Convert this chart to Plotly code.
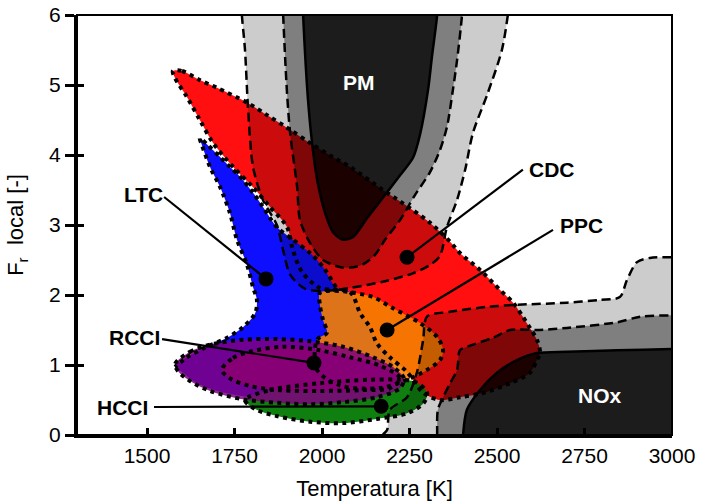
import plotly.graph_objects as go

# ---------------------------------------------------------------
# Mapa de modos de combustión: Temperatura [K] vs. Fr local [-]
# ---------------------------------------------------------------

# CDC (combustión diésel convencional)
CDC_T = [1574, 1600, 1651, 1700, 1789, 1843, 1900, 1966, 2031, 2080, 2174, 2231,
         2309, 2366, 2394, 2451, 2509, 2546, 2574, 2594, 2614, 2623, 2614, 2594,
         2537, 2460, 2394, 2337, 2290, 2243, 2194, 2157, 2137, 2109, 2080, 1994,
         1943, 1917, 1900, 1851, 1803, 1746, 1689, 1651, 1614, 1580]
CDC_F = [5.20, 5.20, 5.07, 4.96, 4.74, 4.57, 4.39, 4.17, 3.97, 3.83, 3.50, 3.31,
         3.03, 2.76, 2.60, 2.36, 2.07, 1.89, 1.69, 1.53, 1.36, 1.17, 1.07, 0.89,
         0.74, 0.60, 0.54, 0.50, 0.60, 0.90, 1.11, 1.31, 1.54, 1.74, 2.04, 2.10,
         2.33, 2.64, 2.97, 3.26, 3.54, 3.83, 4.17, 4.50, 4.83, 5.10]

# LTC (baja temperatura): contorno visible + cierre bajo RCCI/PPC
LTC_borde_T = [2040, 2003, 1966, 1917, 1871, 1831, 1803, 1766, 1737, 1709, 1674,
               1651, 1657, 1680, 1709, 1737, 1757, 1786, 1803, 1814, 1809, 1774,
               1729, 1671, 1614, 1580]
LTC_borde_F = [2.11, 2.40, 2.60, 2.79, 2.97, 3.26, 3.46, 3.69, 3.83, 3.97, 4.14,
               4.24, 4.14, 3.83, 3.54, 3.17, 2.79, 2.43, 2.11, 1.93, 1.74, 1.54,
               1.39, 1.26, 1.11, 0.97]
LTC_cierre_T = [1600, 1650, 1780, 1940, 2100, 2205, 2194, 2157, 2137, 2109, 2080]
LTC_cierre_F = [0.90, 0.72, 0.55, 0.60, 0.77, 0.93, 1.11, 1.31, 1.54, 1.74, 2.04]

# PPC (premezcla parcial)
PPC_T = [1994, 2037, 2080, 2146, 2203, 2280, 2329, 2346, 2337, 2300, 2243, 2166,
         2051, 1986, 1986, 2014, 2003, 1994]
PPC_F = [2.03, 2.06, 2.04, 1.97, 1.81, 1.60, 1.40, 1.21, 1.07, 0.93, 0.79, 0.67,
         0.71, 0.93, 1.36, 1.46, 1.64, 1.86]

# HCCI
HCCI_T = [1780, 1851, 1994, 2137, 2223, 2266, 2300, 2291, 2243, 2157, 2060, 1966,
          1871, 1809]
HCCI_F = [0.50, 0.64, 0.74, 0.79, 0.79, 0.76, 0.61, 0.46, 0.31, 0.23, 0.17, 0.19,
          0.27, 0.37]

# RCCI (contorno exterior y núcleo)
RCCI_T = [1580, 1623, 1680, 1774, 1871, 1966, 2060, 2146, 2203, 2234, 2223, 2157,
          2060, 1966, 1871, 1774, 1680, 1623, 1589]
RCCI_F = [1.01, 1.19, 1.29, 1.36, 1.37, 1.34, 1.26, 1.11, 0.97, 0.81, 0.67, 0.54,
          0.47, 0.44, 0.46, 0.51, 0.63, 0.77, 0.91]
RCCI_nucleo_T = [1714, 1746, 1803, 1889, 1994, 2080, 2166, 2223, 2194, 2109, 1994,
                 1880, 1794, 1737]
RCCI_nucleo_F = [0.93, 1.10, 1.20, 1.26, 1.21, 1.11, 0.99, 0.81, 0.67, 0.64, 0.63,
                 0.64, 0.70, 0.81]

# Zonas de hollín (PM): exterior, intermedia e interior
PM1_T = [1766, 1771, 1780, 1789, 1803, 1831, 1871, 1889, 1909, 1951, 2014, 2080,
         2174, 2260, 2309, 2337, 2357, 2386, 2409, 2431, 2474, 2514, 2531, 2540]
PM1_F = [6.40, 6.00, 5.50, 4.64, 3.83, 3.36, 3.00, 2.64, 2.29, 2.09, 2.06, 2.10,
         2.19, 2.31, 2.43, 2.56, 2.97, 3.36, 3.79, 4.31, 4.89, 5.50, 6.00, 6.40]
PM2_T = [1886, 1889, 1900, 1909, 1929, 1937, 1966, 2003, 2060, 2114, 2151, 2180,
         2223, 2266, 2309, 2337, 2357, 2374, 2386, 2400, 2404]
PM2_F = [6.40, 6.00, 4.89, 4.31, 3.54, 3.07, 2.74, 2.50, 2.39, 2.43, 2.57, 2.79,
         3.07, 3.43, 3.76, 4.07, 4.40, 4.93, 5.36, 6.00, 6.40]
PM3_T = [1943, 1946, 1960, 1974, 1989, 2009, 2031, 2060, 2089, 2129, 2174, 2223,
         2260, 2280, 2303, 2314, 2329, 2333]
PM3_F = [6.40, 6.00, 4.79, 4.07, 3.57, 3.17, 2.90, 2.79, 2.83, 3.10, 3.39, 3.71,
         3.96, 4.29, 4.93, 5.40, 6.00, 6.40]

# Zonas de NOx: exterior, intermedia e interior
NOX1_T = [2172, 2174, 2186, 2194, 2243, 2271, 2289, 2300, 2366, 2471, 2557, 2700,
          2794, 2851, 2871, 2900, 2937, 3000, 3080, 3080]
NOX1_F = [-0.30, 0.00, 0.07, 0.36, 0.54, 0.89, 1.36, 1.69, 1.76, 1.83, 1.86, 1.89,
          1.93, 1.97, 2.21, 2.47, 2.53, 2.54, 2.55, -0.30]
NOX2_T = [2328, 2329, 2331, 2346, 2366, 2386, 2394, 2414, 2489, 2537, 2614, 2700,
          2843, 2909, 3000, 3080, 3080]
NOX2_F = [-0.30, 0.00, 0.36, 0.54, 0.74, 0.93, 1.21, 1.26, 1.39, 1.50, 1.50, 1.53,
          1.61, 1.69, 1.71, 1.72, -0.30]
NOX3_T = [2401, 2403, 2414, 2451, 2500, 2557, 2614, 2700, 2843, 3000, 3080, 3080]
NOX3_F = [-0.30, 0.00, 0.36, 0.64, 0.89, 1.07, 1.17, 1.19, 1.21, 1.23, 1.24, -0.30]

# Etiquetas: texto, posición del texto, inicio de la guía y punto representativo
ETIQUETAS = ["LTC", "CDC", "PPC", "RCCI", "HCCI"]
ETIQ_T = [1489, 2657, 2740, 1463, 1431]
ETIQ_F = [3.44, 3.79, 2.99, 1.39, 0.39]
GUIA_T = [1549, 2574, 2660, 1543, 1520]
GUIA_F = [3.40, 3.79, 2.93, 1.37, 0.40]
PUNTO_T = [1840, 2243, 2186, 1977, 2169]
PUNTO_F = [2.23, 2.54, 1.50, 1.03, 0.41]

ZONAS = ["PM", "NOx"]
ZONA_T = [2106, 2794]
ZONA_F = [5.03, 0.56]

X_TICKS = [1500, 1750, 2000, 2250, 2500, 2750, 3000]
Y_TICKS = [0, 1, 2, 3, 4, 5, 6]

FUENTE = "Liberation Sans, Arial, Helvetica, sans-serif"
PUNTEADO = "4px,4.5px"
DISCONTINUA = "9px,5px"


def cerrar(v):
    return list(v) + [v[0]]


fig = go.Figure()


def relleno(t, f, color, suave=0.9):
    fig.add_trace(go.Scatter(
        x=cerrar(t), y=cerrar(f), mode="lines", fill="toself", fillcolor=color,
        line=dict(width=0, shape="spline", smoothing=suave), hoverinfo="skip"))


def borde(t, f, dash, ancho=4, cerrado=True, suave=0.9):
    xs, ys = (cerrar(t), cerrar(f)) if cerrado else (list(t), list(f))
    fig.add_trace(go.Scatter(
        x=xs, y=ys, mode="lines",
        line=dict(color="black", width=ancho, dash=dash, shape="spline",
                  smoothing=suave), hoverinfo="skip"))


# Rellenos de los modos de combustión
relleno(CDC_T, CDC_F, "rgb(255,15,15)")
relleno(LTC_borde_T + LTC_cierre_T, LTC_borde_F + LTC_cierre_F, "rgb(15,15,255)")
relleno(PPC_T, PPC_F, "rgba(245,128,0,0.9)")
relleno(HCCI_T, HCCI_F, "rgb(15,128,15)")
relleno(RCCI_T, RCCI_F, "rgba(128,0,128,0.85)")
relleno(RCCI_nucleo_T, RCCI_nucleo_F, "rgb(135,0,118)")

# Contornos punteados
borde(CDC_T, CDC_F, PUNTEADO)
borde(LTC_borde_T, LTC_borde_F, PUNTEADO, cerrado=False)
borde(PPC_T, PPC_F, PUNTEADO)
borde(HCCI_T, HCCI_F, PUNTEADO)
borde(RCCI_T, RCCI_F, PUNTEADO)
borde(RCCI_nucleo_T, RCCI_nucleo_F, PUNTEADO)

# Zonas de emisiones (sombras superpuestas)
for t, f, alfa, dash in [
    (PM1_T, PM1_F, 0.20, DISCONTINUA),
    (PM2_T, PM2_F, 0.375, DISCONTINUA),
    (PM3_T, PM3_F, 0.78, "solid"),
    (NOX1_T, NOX1_F, 0.20, DISCONTINUA),
    (NOX2_T, NOX2_F, 0.375, DISCONTINUA),
    (NOX3_T, NOX3_F, 0.78, "solid"),
]:
    fig.add_trace(go.Scatter(
        x=cerrar(t), y=cerrar(f), mode="lines", fill="toself",
        fillcolor=f"rgba(0,0,0,{alfa})",
        line=dict(color="black", width=2.5, dash=dash, shape="spline", smoothing=0.8),
        hoverinfo="skip"))

# Guías y puntos representativos
for i in range(len(ETIQUETAS)):
    fig.add_trace(go.Scatter(
        x=[GUIA_T[i], PUNTO_T[i]], y=[GUIA_F[i], PUNTO_F[i]], mode="lines",
        line=dict(color="black", width=2.2), hoverinfo="skip"))
fig.add_trace(go.Scatter(
    x=PUNTO_T, y=PUNTO_F, mode="markers",
    marker=dict(color="black", size=15), hoverinfo="skip"))

# Traza auxiliar para las marcas interiores del eje Y
fig.add_trace(go.Scatter(x=[1300], y=[0], yaxis="y2", mode="markers",
                         marker=dict(opacity=0), hoverinfo="skip"))

for txt, t, f in zip(ETIQUETAS, ETIQ_T, ETIQ_F):
    fig.add_annotation(x=t, y=f, xref="x", yref="y", text=f"<b>{txt}</b>",
                       showarrow=False, font=dict(family=FUENTE, size=21, color="black"))
for txt, t, f in zip(ZONAS, ZONA_T, ZONA_F):
    fig.add_annotation(x=t, y=f, xref="x", yref="y", text=f"<b>{txt}</b>",
                       showarrow=False, font=dict(family=FUENTE, size=21, color="white"))

# Marco del gráfico
fig.add_shape(type="rect", xref="paper", yref="paper", x0=0, x1=1, y0=0, y1=1,
              line=dict(color="black", width=2), layer="above")

fig.update_layout(
    width=701, height=504,
    margin=dict(l=77, r=29, t=15, b=69, autoexpand=False),
    plot_bgcolor="white", paper_bgcolor="white",
    showlegend=False,
    font=dict(family=FUENTE, size=21, color="black"),
    xaxis=dict(
        range=[1300, 3000], tickvals=X_TICKS, ticks="inside", ticklen=7,
        tickwidth=2.5, tickcolor="black", showline=True, linewidth=3,
        linecolor="black", showgrid=False, zeroline=False, automargin=False,
        tickfont=dict(size=21),
        title=dict(text="Temperatura [K]", font=dict(size=22), standoff=15),
    ),
    yaxis=dict(
        range=[0, 6], tickvals=Y_TICKS, ticks="outside", ticklen=9,
        tickwidth=2.5, tickcolor="black", showline=True, linewidth=3,
        linecolor="black", showgrid=False, zeroline=False, automargin=False,
        tickfont=dict(size=21),
        title=dict(text="F<sub>r</sub>  local [-]", font=dict(size=22), standoff=20),
    ),
    yaxis2=dict(
        range=[0, 6], overlaying="y", tickvals=Y_TICKS, ticks="inside", ticklen=7,
        tickwidth=2.5, tickcolor="black", showticklabels=False, showline=False,
        showgrid=False, zeroline=False, automargin=False,
    ),
)

fig.write_html("out.html")
